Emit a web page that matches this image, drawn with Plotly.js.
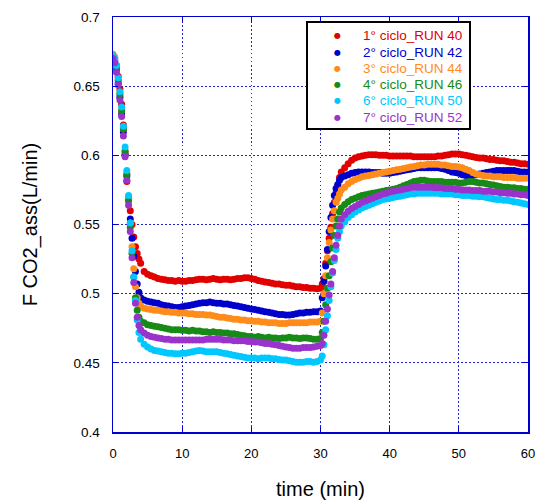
<!DOCTYPE html>
<html>
<head>
<meta charset="utf-8">
<script src="https://cdn.plot.ly/plotly-3.0.1.min.js"></script>
<style>html,body{margin:0;padding:0;background:#fff;}#chart{width:537px;height:502px;}</style>
</head>
<body>
<div id="chart"></div>
<script>
// sample times (min)
const time = [0,0.25,0.5,0.75,1,1.25,1.5,1.75,2,2.25,2.5,2.75,3,3.25,3.5,3.75,4,
4.5,5,5.5,6,6.5,7,7.5,8,8.5,9,9.5,10,10.5,11,11.5,12,12.5,13,13.5,14,14.5,15,15.5,16,16.5,17,17.5,18,18.5,19,19.5,20,20.5,21,21.5,22,22.5,23,23.5,24,24.5,25,25.5,26,26.5,27,27.5,28,28.5,29,29.5,30,
30.25,30.5,30.75,31,31.25,31.5,31.75,32,32.25,32.5,32.75,33,
33.5,34,34.5,35,35.5,36,36.5,37,37.5,38,38.5,39,39.5,40,40.5,41,41.5,42,42.5,43,43.5,44,44.5,45,45.5,46,46.5,47,47.5,48,48.5,49,49.5,50,50.5,51,51.5,52,52.5,53,53.5,54,54.5,55,55.5,56,56.5,57,57.5,58,58.5,59,59.5,60];

const seriesNames = ["1° ciclo_RUN 40","2° ciclo_RUN 42","3° ciclo_RUN 44","4° ciclo_RUN 46","6° ciclo_RUN 50","7° ciclo_RUN 52"];
const seriesColors = ["#e00000","#0000cc","#ff8c1a","#178a17","#00c8ff","#9933cc"];

const run40 = [0.672,0.670,0.665,0.657,0.648,0.637,0.622,0.600,0.581,0.569,0.560,0.550,0.541,0.534,0.529,0.525,0.522,
0.516,0.514,0.513,0.512,0.511,0.5105,0.510,0.5095,0.5095,0.509,0.5095,0.509,0.509,0.5095,0.5095,0.510,0.5105,0.5105,0.510,0.5105,0.511,0.5105,0.510,0.5105,0.5105,0.510,0.5105,0.511,0.511,0.5115,0.5115,0.511,0.5105,0.5095,0.509,0.5085,0.508,0.5075,0.507,0.507,0.5065,0.506,0.506,0.5055,0.505,0.505,0.5045,0.5045,0.504,0.504,0.5035,0.504,
0.507,0.511,0.522,0.531,0.540,0.548,0.558,0.566,0.573,0.578,0.584,0.588,
0.591,0.594,0.5965,0.598,0.599,0.5995,0.600,0.6005,0.6005,0.6005,0.600,0.600,0.600,0.5995,0.5995,0.5995,0.5995,0.5995,0.5995,0.5995,0.599,0.599,0.599,0.599,0.599,0.599,0.599,0.5995,0.5995,0.600,0.6005,0.601,0.601,0.601,0.6005,0.600,0.5995,0.599,0.5985,0.598,0.598,0.5975,0.597,0.597,0.5965,0.596,0.596,0.5955,0.595,0.595,0.5945,0.594,0.594,0.5935];

const run42 = [0.672,0.668,0.662,0.652,0.642,0.630,0.617,0.601,0.585,0.569,0.554,0.540,0.527,0.516,0.507,0.501,0.497,
0.4955,0.4945,0.494,0.4935,0.493,0.492,0.4915,0.491,0.4905,0.490,0.490,0.4905,0.491,0.4915,0.492,0.4925,0.493,0.4935,0.4935,0.494,0.4935,0.493,0.493,0.4925,0.4925,0.492,0.4915,0.491,0.4905,0.490,0.4895,0.489,0.4885,0.488,0.4875,0.487,0.4865,0.486,0.4855,0.485,0.485,0.4845,0.4845,0.485,0.4855,0.486,0.486,0.4865,0.4865,0.487,0.487,0.4875,
0.497,0.509,0.520,0.532,0.545,0.555,0.564,0.571,0.576,0.579,0.582,0.584,
0.585,0.586,0.587,0.5875,0.588,0.588,0.588,0.588,0.5875,0.5875,0.5875,0.587,0.587,0.587,0.5875,0.588,0.5885,0.589,0.5895,0.590,0.5905,0.591,0.591,0.591,0.591,0.591,0.591,0.591,0.5905,0.590,0.589,0.588,0.5875,0.587,0.586,0.5855,0.5855,0.5855,0.586,0.5865,0.587,0.5875,0.588,0.5885,0.589,0.589,0.589,0.589,0.589,0.589,0.5885,0.588,0.588,0.588];

const run44 = [0.673,0.671,0.664,0.655,0.645,0.633,0.619,0.603,0.587,0.569,0.551,0.534,0.518,0.505,0.497,0.493,0.491,
0.4895,0.489,0.4885,0.488,0.488,0.4875,0.487,0.487,0.4865,0.4865,0.486,0.486,0.486,0.4855,0.4855,0.485,0.485,0.485,0.4845,0.4845,0.484,0.4835,0.483,0.483,0.4825,0.482,0.4815,0.4815,0.481,0.481,0.4805,0.4805,0.480,0.480,0.4795,0.4795,0.479,0.479,0.479,0.4785,0.4785,0.4785,0.479,0.479,0.479,0.479,0.479,0.479,0.4795,0.4795,0.4795,0.480,
0.486,0.500,0.513,0.526,0.537,0.546,0.554,0.560,0.566,0.569,0.572,0.575,
0.577,0.5795,0.581,0.5825,0.5835,0.5845,0.585,0.5855,0.586,0.5865,0.587,0.5875,0.588,0.5885,0.589,0.5895,0.590,0.5905,0.591,0.5915,0.592,0.5925,0.593,0.593,0.5935,0.5935,0.5935,0.5935,0.593,0.593,0.5925,0.592,0.592,0.5915,0.591,0.590,0.589,0.5875,0.5865,0.586,0.5855,0.585,0.585,0.5845,0.5845,0.5845,0.584,0.584,0.584,0.584,0.5835,0.5835,0.5835,0.5835];

const run46 = [0.671,0.669,0.663,0.654,0.644,0.632,0.619,0.603,0.586,0.567,0.548,0.529,0.512,0.497,0.488,0.483,0.480,
0.479,0.4775,0.477,0.4765,0.476,0.4755,0.475,0.4745,0.474,0.474,0.474,0.4735,0.4735,0.473,0.4735,0.473,0.473,0.4725,0.4725,0.472,0.4725,0.472,0.472,0.4715,0.4715,0.471,0.471,0.4705,0.470,0.4695,0.469,0.469,0.4685,0.469,0.4685,0.468,0.4685,0.468,0.468,0.4675,0.468,0.468,0.4685,0.468,0.468,0.4675,0.468,0.468,0.4675,0.467,0.467,0.4675,
0.472,0.480,0.492,0.504,0.513,0.523,0.533,0.542,0.549,0.554,0.559,0.562,
0.5645,0.5665,0.568,0.569,0.570,0.571,0.5715,0.572,0.5725,0.573,0.5735,0.574,0.5745,0.575,0.5755,0.576,0.577,0.578,0.579,0.580,0.581,0.5815,0.582,0.582,0.5815,0.581,0.581,0.581,0.581,0.5805,0.5805,0.5805,0.5805,0.580,0.580,0.5805,0.581,0.581,0.5805,0.580,0.580,0.5795,0.579,0.5785,0.578,0.5775,0.577,0.577,0.5765,0.5765,0.576,0.576,0.5755,0.5755];

const run50 = [0.672,0.670,0.665,0.656,0.646,0.635,0.621,0.606,0.589,0.571,0.551,0.531,0.512,0.495,0.481,0.472,0.467,
0.4635,0.4615,0.460,0.459,0.4585,0.458,0.4575,0.457,0.457,0.4565,0.4565,0.457,0.457,0.4575,0.458,0.4585,0.459,0.4585,0.458,0.458,0.458,0.458,0.4575,0.457,0.4565,0.456,0.4555,0.455,0.4545,0.454,0.4535,0.4535,0.4535,0.453,0.4535,0.4535,0.4535,0.453,0.453,0.4525,0.452,0.452,0.4515,0.451,0.4505,0.4505,0.4505,0.451,0.451,0.4505,0.451,0.452,
0.455,0.463,0.474,0.484,0.495,0.505,0.515,0.524,0.532,0.540,0.545,0.549,
0.552,0.555,0.557,0.559,0.5605,0.562,0.563,0.564,0.565,0.566,0.567,0.568,0.5685,0.569,0.5695,0.570,0.5705,0.571,0.5715,0.572,0.572,0.5725,0.5725,0.5725,0.5725,0.5725,0.5725,0.5725,0.572,0.572,0.572,0.572,0.5715,0.5715,0.571,0.571,0.571,0.5705,0.5705,0.570,0.570,0.5695,0.569,0.5685,0.568,0.568,0.5675,0.5675,0.567,0.5665,0.566,0.5655,0.565,0.5645];

const run52 = [0.670,0.667,0.660,0.651,0.640,0.628,0.614,0.599,0.582,0.564,0.545,0.526,0.508,0.493,0.483,0.477,0.474,
0.4715,0.470,0.469,0.4685,0.468,0.4675,0.467,0.467,0.4665,0.4665,0.4665,0.4665,0.4665,0.4665,0.4665,0.4665,0.4665,0.4665,0.467,0.467,0.467,0.467,0.467,0.4665,0.4665,0.4665,0.466,0.466,0.466,0.466,0.4655,0.4655,0.465,0.465,0.4645,0.464,0.464,0.4635,0.463,0.4625,0.462,0.4615,0.461,0.4605,0.4605,0.4605,0.461,0.461,0.461,0.4615,0.462,0.4625,
0.464,0.470,0.480,0.489,0.499,0.507,0.516,0.526,0.535,0.542,0.549,0.554,
0.557,0.5595,0.5615,0.563,0.5645,0.566,0.567,0.568,0.569,0.570,0.571,0.572,0.5725,0.5735,0.574,0.5745,0.575,0.5755,0.576,0.5765,0.577,0.577,0.577,0.577,0.577,0.577,0.5765,0.5765,0.5765,0.576,0.576,0.576,0.5755,0.5755,0.575,0.575,0.575,0.5745,0.5745,0.5745,0.574,0.574,0.574,0.5735,0.5735,0.573,0.573,0.5725,0.5725,0.572,0.572,0.5715,0.5715,0.571];

const seriesValues = [run40, run42, run44, run46, run50, run52];

const xTicks = [0,10,20,30,40,50,60];
const yTicks = [0.4,0.45,0.5,0.55,0.6,0.65,0.7];
const yTickText = ["0.4","0.45","0.5","0.55","0.6","0.65","0.7"];

const traces = seriesValues.map((vals, i) => ({
  type: 'scatter',
  mode: 'markers',
  x: time,
  y: vals,
  name: seriesNames[i],
  marker: {color: seriesColors[i], size: 7, line: {width: 0}},
  hoverinfo: 'x+y+name'
}));

const FONT = 'Liberation Sans, Arial, Helvetica, sans-serif';
const AXC = '#0000cc';
const GRIDC = '#2020dd';

// legend drawn inside a framed box (layout positions in paper units)
const plotTop = 17, plotH = 415, plotL = 113, plotW = 415;
const px2x = p => (p - plotL) / plotW;
const px2y = p => (plotTop + plotH - p) / plotH;

const annotations = [];
seriesNames.forEach((nm, i) => {
  const rowY = px2y(36 + 16.2 * i);
  annotations.push({
    xref: 'paper', yref: 'paper', x: px2x(337), y: rowY,
    xanchor: 'center', yanchor: 'middle', showarrow: false,
    text: '●', font: {family: 'DejaVu Sans', size: 8, color: seriesColors[i]}
  });
  annotations.push({
    xref: 'paper', yref: 'paper', x: px2x(361), y: rowY,
    xanchor: 'left', yanchor: 'middle', showarrow: false,
    text: nm, font: {family: FONT, size: 13.5, color: seriesColors[i]}
  });
});

const layout = {
  width: 537, height: 502,
  margin: {l: 113, r: 9, t: 17, b: 70},
  paper_bgcolor: '#ffffff', plot_bgcolor: '#ffffff',
  showlegend: false,
  font: {family: FONT, color: '#000000', size: 13},
  xaxis: {
    range: [0, 60], tickvals: xTicks, ticktext: xTicks.map(String),
    showgrid: true, gridcolor: GRIDC, griddash: '1.5px,2.5px', gridwidth: 1.3,
    showline: true, linecolor: AXC, linewidth: 1.5, mirror: 'ticks',
    ticks: 'inside', ticklen: 5, tickcolor: AXC, tickwidth: 1,
    zeroline: false, ticklabelstandoff: 9,
    tickfont: {family: FONT, size: 13, color: '#000'},
    title: {text: 'time (min)', font: {family: FONT, size: 20, color: '#000'}, standoff: 22}
  },
  yaxis: {
    range: [0.4, 0.7], tickvals: yTicks, ticktext: yTickText,
    showgrid: true, gridcolor: GRIDC, griddash: '1.5px,2.5px', gridwidth: 1.3,
    showline: true, linecolor: AXC, linewidth: 1.5, mirror: 'ticks',
    ticks: 'inside', ticklen: 5, tickcolor: AXC, tickwidth: 1,
    zeroline: false, ticklabelstandoff: 9,
    tickfont: {family: FONT, size: 13.5, color: '#000'},
    title: {text: 'F CO2_ass(L/min)', font: {family: FONT, size: 20, color: '#000'}, standoff: 30}
  },
  shapes: [{
    type: 'rect', xref: 'paper', yref: 'paper',
    x0: px2x(307), x1: px2x(470), y0: px2y(129), y1: px2y(22),
    line: {color: '#000000', width: 2}, fillcolor: '#ffffff', layer: 'above'
  }],
  annotations: annotations
};

Plotly.newPlot('chart', traces, layout, {displayModeBar: false, staticPlot: true});
</script>
</body>
</html>
